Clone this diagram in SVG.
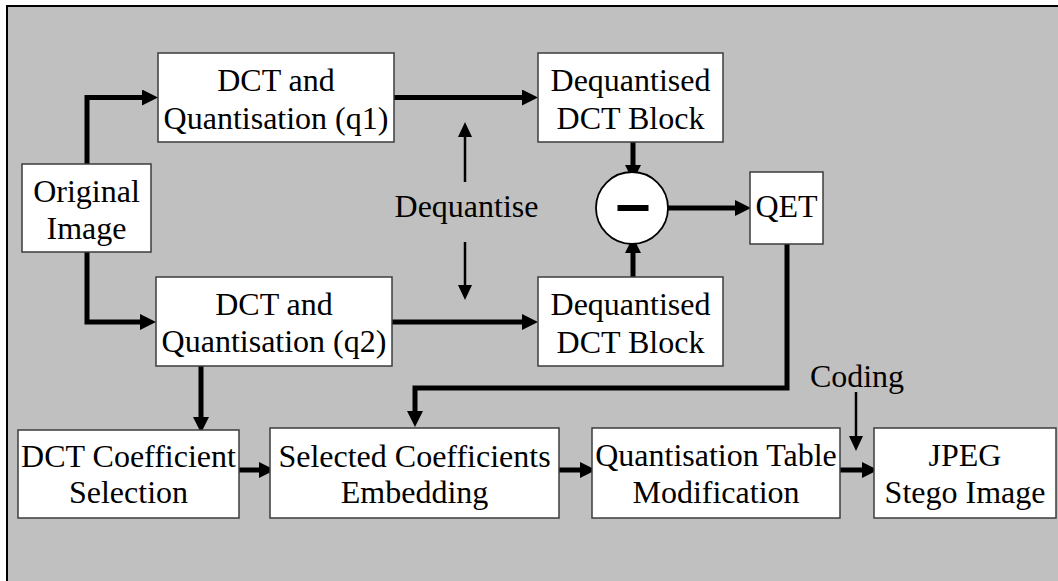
<svg xmlns="http://www.w3.org/2000/svg" width="1058" height="581" viewBox="0 0 1058 581">
  <style>
    .box { fill: #ffffff; stroke: #3c3c3c; stroke-width: 1.5; }
    .lbl { font-size: 32px; fill: #000; text-anchor: middle; }
    .thick { fill: none; stroke: #000; stroke-width: 5; stroke-linejoin: miter; }
    .thin { fill: none; stroke: #000; stroke-width: 2.5; }
  </style>
  <defs>
    <marker id="head" markerUnits="userSpaceOnUse" markerWidth="16" markerHeight="16" refX="2" refY="8" orient="auto">
      <path d="M0,0 L16,8 L0,16 z" fill="#000"/>
    </marker>
    <marker id="headThin" markerUnits="userSpaceOnUse" markerWidth="15" markerHeight="14" refX="2" refY="7" orient="auto">
      <path d="M0,0 L15,7 L0,14 z" fill="#000"/>
    </marker>
  </defs>

  <!-- background panel with top and left rule -->
  <rect x="7" y="6" width="1051" height="575" fill="#c0c0c0"/>
  <line x1="6" y1="6" x2="1058" y2="6" stroke="#000" stroke-width="2"/>
  <line x1="7" y1="5" x2="7" y2="581" stroke="#000" stroke-width="2"/>

  <!-- connectors -->
  <g id="connectors">
    <path class="thick" d="M87,164 V97.5 H144" marker-end="url(#head)"/>
    <path class="thick" d="M87,252 V322 H142" marker-end="url(#head)"/>
    <path class="thick" d="M394,97.5 H524" marker-end="url(#head)"/>
    <path class="thick" d="M392,322 H524" marker-end="url(#head)"/>
    <path class="thick" d="M633,142 V167" marker-end="url(#head)"/>
    <path class="thick" d="M633,277 V251" marker-end="url(#head)"/>
    <path class="thick" d="M668,208 H737" marker-end="url(#head)"/>
    <path class="thick" d="M787,244 V388 H415 V413" marker-end="url(#head)"/>
    <path class="thick" d="M201,366 V419" marker-end="url(#head)"/>
    <path class="thick" d="M239,470 H261" marker-end="url(#head)"/>
    <path class="thick" d="M559,470 H582" marker-end="url(#head)"/>
    <path class="thick" d="M840,470 H864" marker-end="url(#head)"/>
    <path class="thin" d="M465,182 V135" marker-end="url(#headThin)"/>
    <path class="thin" d="M465,242 V287" marker-end="url(#headThin)"/>
    <path class="thin" d="M856,392 V438" marker-end="url(#headThin)"/>
  </g>

  <g font-family="Liberation Serif, Tinos, DejaVu Serif, serif">
  <g id="original-image">
    <rect class="box" x="22" y="164" width="129" height="88"/>
    <text class="lbl" x="86.5" y="201.5">Original</text>
    <text class="lbl" x="86.5" y="238.5">Image</text>
  </g>

  <g id="dct-q1">
    <rect class="box" x="158" y="53" width="236" height="89"/>
    <text class="lbl" x="276" y="91">DCT and</text>
    <text class="lbl" x="276" y="128.5">Quantisation (q1)</text>
  </g>

  <g id="dct-q2">
    <rect class="box" x="156" y="277" width="236" height="89"/>
    <text class="lbl" x="274" y="315">DCT and</text>
    <text class="lbl" x="274" y="352">Quantisation (q2)</text>
  </g>

  <g id="dequantised-1">
    <rect class="box" x="538" y="53" width="185" height="89"/>
    <text class="lbl" x="630.5" y="91">Dequantised</text>
    <text class="lbl" x="630.5" y="128.5">DCT Block</text>
  </g>

  <g id="dequantised-2">
    <rect class="box" x="538" y="277" width="185" height="89"/>
    <text class="lbl" x="630.5" y="315">Dequantised</text>
    <text class="lbl" x="630.5" y="352.5">DCT Block</text>
  </g>

  <g id="subtract">
    <circle cx="632" cy="208" r="36" fill="#fff" stroke="#000" stroke-width="1.8"/>
    <rect x="617.5" y="205" width="31" height="6" fill="#000"/>
  </g>

  <g id="qet">
    <rect class="box" x="750" y="172" width="73" height="72"/>
    <text class="lbl" x="786.5" y="216.5">QET</text>
  </g>

  <g id="dequantise-label">
    <text class="lbl" x="466.5" y="216.5">Dequantise</text>
  </g>

  <g id="coding-label">
    <text class="lbl" x="857" y="386.5">Coding</text>
  </g>

  <g id="coef-selection">
    <rect class="box" x="18" y="430" width="221" height="88"/>
    <text class="lbl" x="128.5" y="466.5">DCT Coefficient</text>
    <text class="lbl" x="128.5" y="503">Selection</text>
  </g>

  <g id="coef-embedding">
    <rect class="box" x="270" y="428" width="289" height="90"/>
    <text class="lbl" x="414.5" y="466.5">Selected Coefficients</text>
    <text class="lbl" x="414.5" y="503">Embedding</text>
  </g>

  <g id="table-modification">
    <rect class="box" x="592" y="428" width="248" height="90"/>
    <text class="lbl" x="716" y="466">Quantisation Table</text>
    <text class="lbl" x="716" y="502.5">Modification</text>
  </g>

  <g id="jpeg-stego">
    <rect class="box" x="874" y="428" width="182" height="90"/>
    <text class="lbl" x="965" y="466">JPEG</text>
    <text class="lbl" x="965" y="502.5">Stego Image</text>
  </g>
  </g>
</svg>
